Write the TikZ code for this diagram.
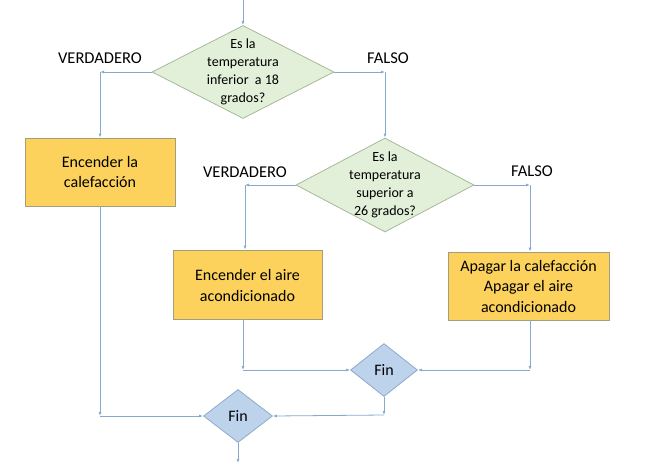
\documentclass[tikz,border=0pt]{standalone}
\usepackage{fontspec}
\setmainfont{Carlito}
\usetikzlibrary{shapes.geometric,arrows.meta}
\definecolor{lineblue}{HTML}{86A9CF}
\definecolor{greenfill}{HTML}{E2EFD9}
\definecolor{greenedge}{HTML}{A7B99A}
\definecolor{goldfill}{HTML}{FCD25C}
\definecolor{goldedge}{HTML}{A39E7E}
\definecolor{bluefill}{HTML}{BDD3EC}
\definecolor{blueedge}{HTML}{8EA9C8}
\tikzset{
  conn/.style={draw=lineblue, line width=0.8pt, -{Latex[length=4pt,width=3pt]}},
  decision/.style={diamond, draw=greenedge, fill=greenfill, line width=0.8pt, inner sep=0pt},
  findec/.style={diamond, draw=blueedge, fill=bluefill, line width=0.8pt, inner sep=0pt},
  action/.style={rectangle, draw=goldedge, fill=goldfill, line width=0.8pt, inner sep=0pt},
  dtext/.style={align=center, font=\fontsize{14}{18}\selectfont, inner sep=0pt},
  btext/.style={align=center, font=\fontsize{16}{20.5}\selectfont, inner sep=0pt},
  lbl/.style={font=\fontsize{16.5}{19}\selectfont, inner sep=0pt},
}
\begin{document}
\begin{tikzpicture}[x=1pt,y=-1pt]
\useasboundingbox (0,0) rectangle (659,467);
% decisions
\node[decision, minimum width=182pt, minimum height=93pt] (d1) at (243,72) {};
\node[dtext] at (d1.center) {Es la\\temperatura\\inferior\ \ a 18\\grados?};
\node[decision, minimum width=178pt, minimum height=94pt] (d2) at (385,185) {};
\node[dtext] at (d2.center) {Es la\\temperatura\\superior a\\26 grados?};
% actions
\node[action, minimum width=150pt, minimum height=68pt] (b1) at (100,172) {};
\node[btext] at (b1.center) {Encender la\\calefacción};
\node[action, minimum width=149pt, minimum height=69pt] (b2) at (247.5,284.5) {};
\node[btext] at ([yshift=-1pt]b2.center) {Encender el aire\\acondicionado};
\node[action, minimum width=161pt, minimum height=68pt] (b3) at (528.5,286) {};
\node[btext] at (b3.center) {Apagar la calefacción\\Apagar el aire\\acondicionado};
% end diamonds
\node[findec, minimum width=67pt, minimum height=53pt] (f1) at (384,370) {};
\node[btext] at (f1.center) {Fin};
\node[findec, minimum width=69pt, minimum height=53pt] (f2) at (238,416) {};
\node[btext] at (f2.center) {Fin};
% labels
\node[lbl] (l1) at (100,58) {VERDADERO};
\node[lbl] (l2) at (388,58) {FALSO};
\node[lbl] (l3) at (245,172) {VERDADERO};
\node[lbl] (l4) at (532,171) {FALSO};
% coordinates
\coordinate (start) at (243,0);
\coordinate (c1) at (100,72);
\coordinate (c2) at (385,72);
\coordinate (c3) at (245,185);
\coordinate (c4) at (530,185);
\coordinate (c5) at (243,370);
\coordinate (c6) at (530,370);
\coordinate (c7) at (384,415);
\coordinate (c8) at (100,416);
\coordinate (endp) at (238,463);
% connectors
\draw[conn] (start) -- (d1.north);
\draw[conn] (d1.west) -- (c1);
\draw[conn] (c1) -- (b1.north);
\draw[conn] (d1.east) -- (c2);
\draw[conn] (c2) -- (d2.north);
\draw[conn] (d2.west) -- (c3);
\draw[conn] (c3) -- (c3 |- b2.north);
\draw[conn] (d2.east) -- (c4);
\draw[conn] (c4) -- (c4 |- b3.north);
\draw[conn] (c5 |- b2.south) -- (c5);
\draw[conn] (c5) -- (f1.west);
\draw[conn] (c6 |- b3.south) -- (c6);
\draw[conn] (c6) -- (f1.east);
\draw[conn] (f1.south) -- (c7);
\draw[conn] (c7) -- (f2.east);
\draw[conn] (b1.south) -- (c8);
\draw[conn] (c8) -- (f2.west);
\draw[conn] (f2.south) -- (endp);
\end{tikzpicture}
\end{document}
